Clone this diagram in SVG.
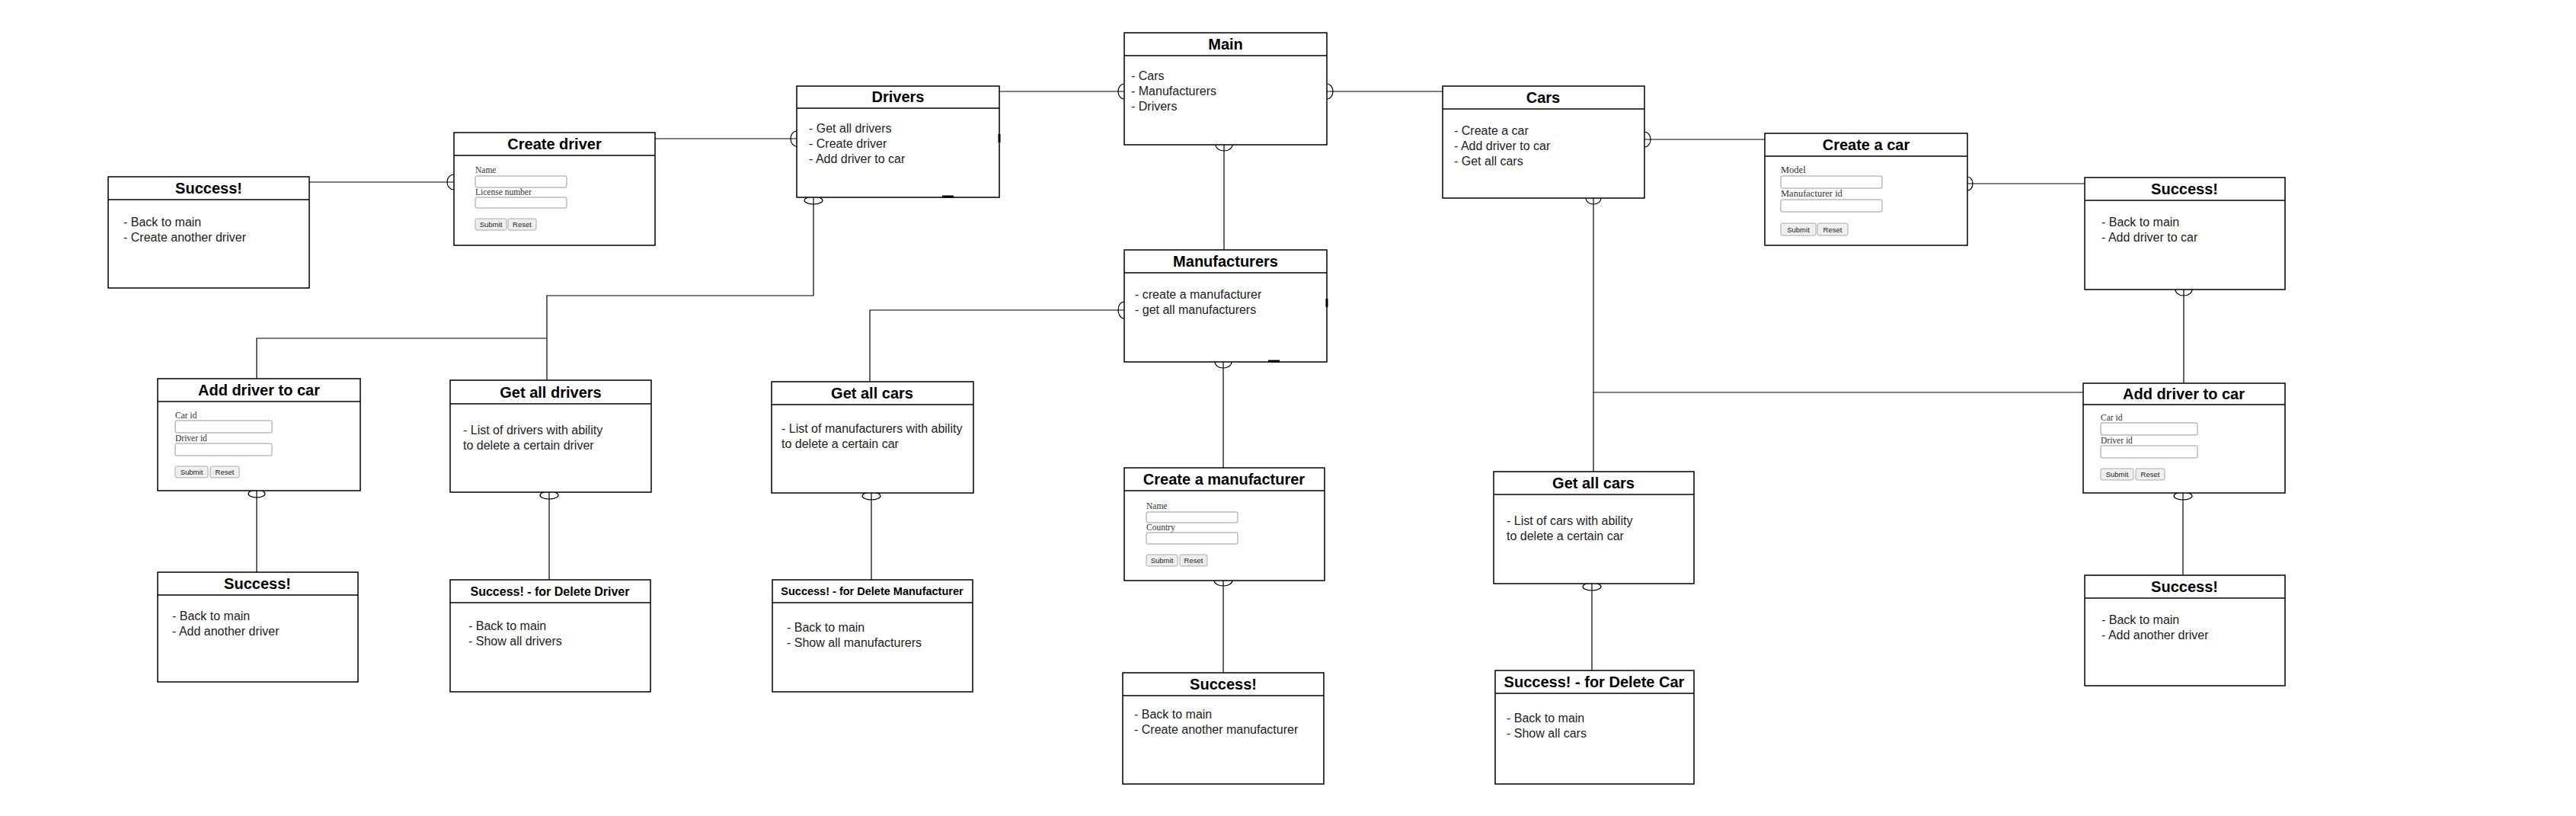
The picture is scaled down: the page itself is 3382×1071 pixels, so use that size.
<svg xmlns="http://www.w3.org/2000/svg" width="3382" height="1071" viewBox="0 0 3382 1071">
<style>
.box{fill:#fff;stroke:#000;stroke-width:1.5}
.hdr{stroke:#000;stroke-width:1.5}
.t{font-family:"Liberation Sans",Arial,sans-serif;font-weight:bold;font-size:20px;fill:#000;text-anchor:middle}
.t16{font-size:16px}
.t145{font-size:14.5px}
.b{font-family:"Liberation Sans",Arial,sans-serif;font-size:16px;fill:#222}
.lbl{font-family:"Liberation Serif","Times New Roman",serif;font-size:11.5px;fill:#333}
.lblb{font-size:12.5px}
.in{fill:#fff;stroke:#999;stroke-width:1}
.btn{fill:#efefef;stroke:#aaa;stroke-width:1}
.bt{font-family:"Liberation Sans",Arial,sans-serif;font-size:9.5px;fill:#222;text-anchor:middle}
.c{fill:none;stroke:#000;stroke-width:1.2}
.m{fill:none;stroke:#000;stroke-width:1.2}
.tick{stroke:#000;stroke-width:3}
</style>
<rect width="3382" height="1071" fill="#fff"/>
<g id="connectors">
<path class="c" d="M1312,120 H1476"/>
<path class="c" d="M1742,120 H1894"/>
<path class="c" d="M1607,190 V328"/>
<path class="c" d="M860,182 H1046"/>
<path class="c" d="M406,239 H596"/>
<path class="c" d="M1068,259 V388 H718 V499"/>
<path class="c" d="M718,444 H337 V497"/>
<path class="c" d="M337,644 V751"/>
<path class="c" d="M721,646 V761"/>
<path class="c" d="M1142,501 V407 H1476"/>
<path class="c" d="M1144,647 V761"/>
<path class="c" d="M1606,475 V614"/>
<path class="c" d="M1606,762 V883"/>
<path class="c" d="M2159,183 H2317"/>
<path class="c" d="M2583,241 H2737"/>
<path class="c" d="M2092,260 V619"/>
<path class="c" d="M2092,515 H2735"/>
<path class="c" d="M2867,380 V503"/>
<path class="c" d="M2866,647 V755"/>
<path class="c" d="M2090,766 V880"/>
<ellipse class="m" cx="1476" cy="120" rx="8" ry="10"/>
<ellipse class="m" cx="1742" cy="120" rx="8" ry="10"/>
<ellipse class="m" cx="1607" cy="190" rx="11" ry="8"/>
<ellipse class="m" cx="1046" cy="182" rx="8" ry="10"/>
<ellipse class="m" cx="596" cy="239" rx="9" ry="10"/>
<ellipse class="m" cx="1068" cy="263" rx="12" ry="5"/>
<ellipse class="m" cx="337" cy="648" rx="11" ry="5"/>
<ellipse class="m" cx="721" cy="650" rx="12" ry="5"/>
<ellipse class="m" cx="1476" cy="407" rx="8" ry="11"/>
<ellipse class="m" cx="1144" cy="651" rx="12" ry="5"/>
<ellipse class="m" cx="1606" cy="475" rx="11" ry="8"/>
<ellipse class="m" cx="1606" cy="762" rx="12" ry="7"/>
<ellipse class="m" cx="2159" cy="183" rx="8" ry="10"/>
<ellipse class="m" cx="2092" cy="260" rx="10" ry="8"/>
<ellipse class="m" cx="2583" cy="241" rx="7" ry="9"/>
<ellipse class="m" cx="2867" cy="380" rx="11" ry="8"/>
<ellipse class="m" cx="2866" cy="651" rx="12" ry="5"/>
<ellipse class="m" cx="2090" cy="770" rx="12" ry="5"/>
</g>

<g id="main">
<rect class="box" x="1476" y="43" width="266" height="147"/>
<line class="hdr" x1="1476" y1="73" x2="1742" y2="73"/>
<text class="t" x="1609" y="65">Main</text>
<text class="b" x="1485" y="105">- Cars</text>
<text class="b" x="1485" y="125">- Manufacturers</text>
<text class="b" x="1485" y="145">- Drivers</text>
</g>

<g id="drivers">
<rect class="box" x="1046" y="113" width="266" height="146"/>
<line class="hdr" x1="1046" y1="142" x2="1312" y2="142"/>
<text class="t" x="1179" y="134">Drivers</text>
<text class="b" x="1062" y="174">- Get all drivers</text>
<text class="b" x="1062" y="194">- Create driver</text>
<text class="b" x="1062" y="214">- Add driver to car</text>
</g>

<g id="create-driver">
<rect class="box" x="596" y="174" width="264" height="148"/>
<line class="hdr" x1="596" y1="204" x2="860" y2="204"/>
<text class="t" x="728" y="196">Create driver</text>
<text class="lbl" x="624" y="227">Name</text>
<rect class="in" x="624" y="231" width="120" height="15" rx="2"/>
<text class="lbl" x="624" y="256">License number</text>
<rect class="in" x="624" y="259" width="120" height="14" rx="2"/>
<rect class="btn" x="624" y="287" width="41" height="15" rx="2"/>
<text class="bt" x="644.5" y="298">Submit</text>
<rect class="btn" x="667" y="287" width="37" height="15" rx="2"/>
<text class="bt" x="685.5" y="298">Reset</text>
</g>

<g id="success-create-driver">
<rect class="box" x="142" y="232" width="264" height="146"/>
<line class="hdr" x1="142" y1="262" x2="406" y2="262"/>
<text class="t" x="274" y="254">Success!</text>
<text class="b" x="162" y="297">- Back to main</text>
<text class="b" x="162" y="317">- Create another driver</text>
</g>

<g id="add-driver-left">
<rect class="box" x="207" y="497" width="266" height="147"/>
<line class="hdr" x1="207" y1="527" x2="473" y2="527"/>
<text class="t" x="340" y="519">Add driver to car</text>
<text class="lbl" x="230" y="549">Car id</text>
<rect class="in" x="230" y="552" width="127" height="16" rx="2"/>
<text class="lbl" x="230" y="579">Driver id</text>
<rect class="in" x="230" y="582" width="127" height="16" rx="2"/>
<rect class="btn" x="230" y="612" width="43" height="15" rx="2"/>
<text class="bt" x="251.5" y="623">Submit</text>
<rect class="btn" x="276" y="612" width="38" height="15" rx="2"/>
<text class="bt" x="295" y="623">Reset</text>
</g>

<g id="get-all-drivers">
<rect class="box" x="591" y="499" width="264" height="147"/>
<line class="hdr" x1="591" y1="530" x2="855" y2="530"/>
<text class="t" x="723" y="522">Get all drivers</text>
<text class="b" x="608" y="570">- List of drivers with ability</text>
<text class="b" x="608" y="590">to delete a certain driver</text>
</g>

<g id="get-all-cars-mid">
<rect class="box" x="1013" y="501" width="265" height="146"/>
<line class="hdr" x1="1013" y1="531" x2="1278" y2="531"/>
<text class="t" x="1145" y="523">Get all cars</text>
<text class="b" x="1026" y="568">- List of manufacturers with ability</text>
<text class="b" x="1026" y="588">to delete a certain car</text>
</g>

<g id="manufacturers">
<rect class="box" x="1476" y="328" width="266" height="147"/>
<line class="hdr" x1="1476" y1="358" x2="1742" y2="358"/>
<text class="t" x="1609" y="350">Manufacturers</text>
<text class="b" x="1490" y="392">- create a manufacturer</text>
<text class="b" x="1490" y="412">- get all manufacturers</text>
</g>

<g id="create-manufacturer">
<rect class="box" x="1476" y="614" width="263" height="148"/>
<line class="hdr" x1="1476" y1="644" x2="1739" y2="644"/>
<text class="t" x="1607" y="636">Create a manufacturer</text>
<text class="lbl" x="1505" y="668">Name</text>
<rect class="in" x="1505" y="672" width="120" height="14" rx="2"/>
<text class="lbl" x="1505" y="696">Country</text>
<rect class="in" x="1505" y="699" width="120" height="15" rx="2"/>
<rect class="btn" x="1505" y="728" width="41" height="15" rx="2"/>
<text class="bt" x="1525.5" y="739">Submit</text>
<rect class="btn" x="1549" y="728" width="36" height="15" rx="2"/>
<text class="bt" x="1567" y="739">Reset</text>
</g>

<g id="success-manufacturer">
<rect class="box" x="1474" y="883" width="264" height="146"/>
<line class="hdr" x1="1474" y1="913" x2="1738" y2="913"/>
<text class="t" x="1606" y="905">Success!</text>
<text class="b" x="1489" y="943">- Back to main</text>
<text class="b" x="1489" y="963">- Create another manufacturer</text>
</g>

<g id="cars">
<rect class="box" x="1894" y="113" width="265" height="147"/>
<line class="hdr" x1="1894" y1="143" x2="2159" y2="143"/>
<text class="t" x="2026" y="135">Cars</text>
<text class="b" x="1909" y="177">- Create a car</text>
<text class="b" x="1909" y="197">- Add driver to car</text>
<text class="b" x="1909" y="217">- Get all cars</text>
</g>

<g id="create-car">
<rect class="box" x="2317" y="175" width="266" height="147"/>
<line class="hdr" x1="2317" y1="205" x2="2583" y2="205"/>
<text class="t" x="2450" y="197">Create a car</text>
<text class="lbl lblb" x="2338" y="227">Model</text>
<rect class="in" x="2338" y="231" width="133" height="16" rx="2"/>
<text class="lbl lblb" x="2338" y="258">Manufacturer id</text>
<rect class="in" x="2338" y="262" width="133" height="16" rx="2"/>
<rect class="btn" x="2338" y="293" width="46" height="16" rx="2"/>
<text class="bt" x="2361" y="305">Submit</text>
<rect class="btn" x="2386" y="293" width="40" height="16" rx="2"/>
<text class="bt" x="2406" y="305">Reset</text>
</g>

<g id="success-create-car">
<rect class="box" x="2737" y="233" width="263" height="147"/>
<line class="hdr" x1="2737" y1="263" x2="3000" y2="263"/>
<text class="t" x="2868" y="255">Success!</text>
<text class="b" x="2759" y="297">- Back to main</text>
<text class="b" x="2759" y="317">- Add driver to car</text>
</g>

<g id="add-driver-right">
<rect class="box" x="2735" y="503" width="265" height="144"/>
<line class="hdr" x1="2735" y1="531" x2="3000" y2="531"/>
<text class="t" x="2867" y="524">Add driver to car</text>
<text class="lbl" x="2758" y="552">Car id</text>
<rect class="in" x="2758" y="555" width="127" height="16" rx="2"/>
<text class="lbl" x="2758" y="582">Driver id</text>
<rect class="in" x="2758" y="585" width="127" height="16" rx="2"/>
<rect class="btn" x="2758" y="615" width="43" height="15" rx="2"/>
<text class="bt" x="2779.5" y="626">Submit</text>
<rect class="btn" x="2804" y="615" width="38" height="15" rx="2"/>
<text class="bt" x="2823" y="626">Reset</text>
</g>

<g id="success-add-driver-right">
<rect class="box" x="2737" y="755" width="263" height="145"/>
<line class="hdr" x1="2737" y1="785" x2="3000" y2="785"/>
<text class="t" x="2868" y="777">Success!</text>
<text class="b" x="2759" y="819">- Back to main</text>
<text class="b" x="2759" y="839">- Add another driver</text>
</g>

<g id="get-all-cars-right">
<rect class="box" x="1961" y="619" width="263" height="147"/>
<line class="hdr" x1="1961" y1="649" x2="2224" y2="649"/>
<text class="t" x="2092" y="641">Get all cars</text>
<text class="b" x="1978" y="689">- List of cars with ability</text>
<text class="b" x="1978" y="709">to delete a certain car</text>
</g>

<g id="success-delete-car">
<rect class="box" x="1963" y="880" width="261" height="149"/>
<line class="hdr" x1="1963" y1="910" x2="2224" y2="910"/>
<text class="t" x="2093" y="902">Success! - for Delete Car</text>
<text class="b" x="1978" y="948">- Back to main</text>
<text class="b" x="1978" y="968">- Show all cars</text>
</g>

<g id="success-add-driver-left">
<rect class="box" x="207" y="751" width="263" height="144"/>
<line class="hdr" x1="207" y1="781" x2="470" y2="781"/>
<text class="t" x="338" y="773">Success!</text>
<text class="b" x="226" y="814">- Back to main</text>
<text class="b" x="226" y="834">- Add another driver</text>
</g>

<g id="success-delete-driver">
<rect class="box" x="591" y="761" width="263" height="147"/>
<line class="hdr" x1="591" y1="791" x2="854" y2="791"/>
<text class="t t16" x="722" y="782">Success! - for Delete Driver</text>
<text class="b" x="615" y="827">- Back to main</text>
<text class="b" x="615" y="847">- Show all drivers</text>
</g>

<g id="success-delete-manufacturer">
<rect class="box" x="1014" y="761" width="263" height="147"/>
<line class="hdr" x1="1014" y1="791" x2="1277" y2="791"/>
<text class="t t145" x="1145" y="781">Success! - for Delete Manufacturer</text>
<text class="b" x="1033" y="829">- Back to main</text>
<text class="b" x="1033" y="849">- Show all manufacturers</text>
</g>

<g id="marks">
<line class="tick" x1="1237" y1="258" x2="1252" y2="258"/>
<line class="tick" x1="1665" y1="474" x2="1680" y2="474"/>
<line class="tick" x1="1312" y1="176" x2="1312" y2="187"/>
<line class="tick" x1="1742" y1="392" x2="1742" y2="403"/>
</g>
</svg>
